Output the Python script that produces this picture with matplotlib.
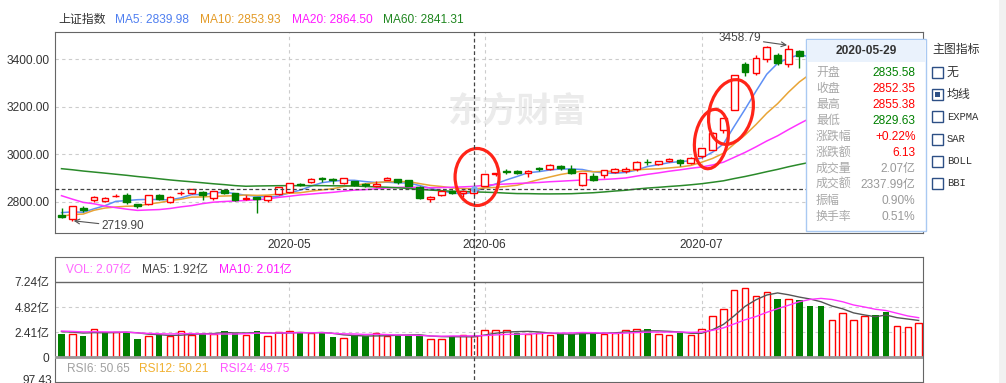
import numpy as np
import pandas as pd
import matplotlib
matplotlib.use('Agg')
import matplotlib.pyplot as plt
from matplotlib.patches import Rectangle, Ellipse
from matplotlib.lines import Line2D
from matplotlib.transforms import blended_transform_factory, IdentityTransform

plt.rcParams['font.family'] = ['Liberation Sans', 'Noto Sans CJK SC', 'DejaVu Sans']
plt.rcParams['font.size'] = 8.6

# trading days shown (2020-04-01 .. 2020-07-29)
apr = [1, 2, 3, 7, 8, 9, 10, 13, 14, 15, 16, 17, 20, 21, 22, 23, 24, 27, 28, 29, 30]
may = [6, 7, 8, 11, 12, 13, 14, 15, 18, 19, 20, 21, 22, 25, 26, 27, 28, 29]
jun = [1, 2, 3, 4, 5, 8, 9, 10, 11, 12, 15, 16, 17, 18, 19, 22, 23, 24, 29, 30]
jul = [1, 2, 3, 6, 7, 8, 9, 10, 13, 14, 15, 16, 17, 20, 21, 22, 23, 24, 27, 28, 29]
dates = ([f'2020-04-{d:02d}' for d in apr] + [f'2020-05-{d:02d}' for d in may] +
         [f'2020-06-{d:02d}' for d in jun] + [f'2020-07-{d:02d}' for d in jul])

# closes before April 1 (2019-12-31 .. 2020-03-31), only needed for the MA lines
prior_close = [3050.12,
               3085.20, 3083.79, 3083.41, 3104.80, 3066.89, 3094.88, 3092.29, 3115.57,
               3106.82, 3090.04, 3074.08, 3075.50, 3095.79, 3052.14, 3060.75, 2976.53,
               2746.61, 2783.29, 2818.09, 2866.51, 2875.96, 2890.49, 2901.67, 2926.90,
               2906.07, 2917.01, 2983.62, 2984.97, 2975.40, 3030.15, 3039.67, 3031.23,
               3013.05, 2987.93, 2991.33, 2880.30,
               2970.93, 2992.90, 3011.67, 3071.68, 3034.51, 2943.29, 2996.76, 2968.52,
               2923.49, 2887.43, 2789.25, 2779.64, 2728.76, 2702.13, 2745.62, 2660.17,
               2722.44, 2781.59, 2764.91, 2772.20, 2747.21, 2750.30]
prior_vol = [2.6, 2.5, 2.6, 2.5, 2.6, 2.5, 2.5, 2.5, 2.5]

open_ = [2743.5, 2727, 2773, 2805, 2804, 2822, 2830, 2790, 2790, 2828, 2800, 2836, 2838, 2841,
         2814, 2849, 2835, 2811, 2818, 2805, 2832,
         2840, 2876, 2881, 2900, 2896, 2880, 2886, 2875, 2868, 2892, 2895, 2890, 2863, 2813,
         2828, 2844, 2838, 2835.58,
         2867, 2915, 2928, 2931, 2920, 2941, 2937, 2952, 2936, 2871, 2908, 2912, 2927, 2928,
         2936, 2968, 2958, 2972, 2975, 2962,
         2992, 3017, 3100, 3185, 3380, 3342, 3400, 3417, 3380, 3434, 3410, 3355, 3200, 3230,
         3318, 3306, 3320, 3305, 3210, 3220, 3227]
high = [2773, 2781, 2780, 2823, 2818, 2833, 2835, 2792, 2828, 2832, 2822, 2843, 2854, 2845,
        2845, 2851, 2838, 2827, 2820, 2826, 2862,
        2880, 2880, 2898, 2906, 2898, 2900, 2888, 2880, 2886, 2903, 2897, 2890, 2866, 2822,
        2848, 2850, 2850, 2855.38,
        2917, 2922, 2936, 2932, 2933, 2948, 2960, 2955, 2956, 2922, 2919, 2933, 2942, 2945,
        2970, 2980, 2973, 2984, 2980, 2988,
        3028, 3093, 3154, 3333, 3390, 3416, 3456, 3428, 3458.79, 3440, 3410, 3360, 3235, 3316,
        3340, 3361, 3335, 3309, 3226, 3247, 3294]
low = [2730, 2719.90, 2755, 2800, 2800, 2818, 2790, 2775, 2788, 2805, 2796, 2828, 2831, 2808,
       2806, 2834, 2804, 2805, 2754, 2800, 2830,
       2838, 2866, 2879, 2882, 2876, 2874, 2865, 2860, 2860, 2890, 2875, 2864, 2810, 2800,
       2822, 2832, 2818, 2829.63,
       2867, 2908, 2916, 2916, 2905, 2930, 2935, 2935, 2915, 2868, 2887, 2900, 2922, 2922,
       2928, 2955, 2953, 2966, 2950, 2960,
       2985, 3016, 3090, 3185, 3330, 3333, 3390, 3377, 3366, 3365, 3350, 3200, 3178, 3230,
       3303, 3293, 3258, 3195, 3184, 3217, 3217]
close = [2734.52, 2780.64, 2763.99, 2820.76, 2815.37, 2825.90, 2796.63, 2783.05, 2827.28,
         2811.17, 2819.94, 2838.49, 2852.55, 2827.01, 2843.98, 2838.50, 2808.53, 2815.49,
         2810.02, 2822.44, 2860.08,
         2878.14, 2871.52, 2895.34, 2894.80, 2891.56, 2898.05, 2870.34, 2868.46, 2875.42,
         2898.58, 2883.74, 2867.92, 2813.77, 2817.97, 2846.55, 2836.80, 2846.22, 2852.35,
         2915.43, 2921.40, 2923.37, 2919.25, 2930.80, 2937.77, 2956.11, 2943.75, 2920.90,
         2919.74, 2890.03, 2931.75, 2935.87, 2939.32, 2967.63, 2965.27, 2970.62, 2979.55,
         2961.52, 2984.67,
         3025.98, 3090.57, 3152.81, 3332.88, 3345.34, 3403.44, 3450.59, 3383.32, 3443.29,
         3414.62, 3361.30, 3210.10, 3214.13, 3314.15, 3320.90, 3333.16, 3325.11, 3196.77,
         3205.23, 3227.96, 3294.55]
# volume, 亿
vol = [2.25, 2.25, 2.06, 2.70, 2.41, 2.41, 2.41, 1.77, 2.03, 2.16, 2.03, 2.54, 2.16, 2.35,
       2.22, 2.54, 2.35, 2.12, 2.54, 2.03, 2.41,
       2.54, 2.35, 2.28, 2.28, 1.96, 1.83, 2.03, 2.03, 2.32, 2.03, 2.12, 2.12, 2.12, 1.74,
       1.74, 2.06, 2.12, 2.07,
       2.61, 2.61, 2.61, 2.35, 2.19, 2.32, 2.12, 2.19, 2.19, 2.44, 2.44, 2.22, 2.35, 2.61,
       2.70, 2.73, 2.22, 2.12, 2.28, 2.12,
       2.70, 3.96, 4.63, 6.47, 6.66, 5.89, 6.27, 5.63, 5.60, 5.53, 4.95, 4.95, 3.57, 4.25,
       3.57, 3.96, 4.09, 4.38, 2.99, 2.90, 3.28]

ma_periods = [5, 10, 20, 60]
ma_colors = ['#5f8ff5', '#e8a435', '#ff33ff', '#2a8a2a']
header_colors = ['#4f7ff0', '#e39a26', '#ff1aff', '#1f861f']

# values printed in the panel headers that the data above can't reproduce
vol_header = [('VOL: 2.07亿', '#ff66ff'), ('MA5: 1.92亿', '#444444'), ('MA10: 2.01亿', '#ff1aff')]
rsi_header = [('RSI6: 50.65', '#a0a0a0'), ('RSI12: 50.21', '#f0b030'), ('RSI24: 49.75', '#ff55ff')]

sel_date = '2020-05-29'
# hand-drawn red rings: (x in candle index, price, width px, height px, tilt deg)
rings = [(38.3, 2904, 44, 57, 0), (59.9, 3064, 33, 60, -10), (61.7, 3178, 43, 66, -15)]

RED = '#ff0000'
GREEN = '#008000'

n = len(close)
x = np.arange(n)
o, h, l, c = map(np.array, (open_, high, low, close))
v = np.array(vol)
up = c >= o
prev_c = np.array(prior_close[-1:] + close[:-1])
vup = c >= prev_c

all_c = pd.Series(prior_close + close)
mas = [all_c.rolling(p).mean().values[len(prior_close):] for p in ma_periods]
all_v = pd.Series(prior_vol + vol)
vma5 = all_v.rolling(5).mean().values[len(prior_vol):]
vma10 = all_v.rolling(10).mean().values[len(prior_vol):]

W, H = 1006, 383
fig = plt.figure(figsize=(W / 100, H / 100), dpi=100)


def px_box(left, top, right, bottom):
    return [left / W, 1 - bottom / H, (right - left) / W, (bottom - top) / H]


ax = fig.add_axes(px_box(55, 32, 923, 233))
axv = fig.add_axes(px_box(55, 257, 923, 382))

month_idx = [i for i in range(1, n) if dates[i][:7] != dates[i - 1][:7]]
ci = dates.index(sel_date)

# ---- main price panel
ax.set_xlim(-0.6, n - 0.6)
ax.set_ylim(2668, 3515)
yt = [2800, 3000, 3200, 3400]
ax.set_yticks(yt)
ax.set_yticklabels([f'{t:.2f}' for t in yt], color='#333')
ax.set_xticks(month_idx)
ax.set_xticklabels([dates[i][:7] for i in month_idx], color='#333')
ax.tick_params(length=0, pad=4)
for s in ax.spines.values():
    s.set_color('#666')

ax.text(0.533, 0.607, '东方财富', transform=ax.transAxes, fontsize=25, color='#ebebeb',
        fontweight='bold', ha='center', va='center', zorder=0,
        family=['Noto Sans CJK SC'])

for t in yt:
    ax.axhline(t, color='#cccccc', lw=0.8, ls=(0, (3, 3)), zorder=1)
for i in month_idx:
    ax.axvline(i, color='#cccccc', lw=0.8, ls=(0, (3, 3)), zorder=1)

for ma, col in zip(mas, ma_colors):
    ax.plot(x, ma, color=col, lw=1.1, zorder=2)

# wicks
ax.vlines(x[up], l[up], o[up], color=RED, lw=1, zorder=3)
ax.vlines(x[up], c[up], h[up], color=RED, lw=1, zorder=3)
ax.vlines(x[~up], l[~up], h[~up], color=GREEN, lw=1, zorder=3)
# bodies
ax.bar(x[up], (c - o)[up], bottom=o[up], width=0.62, facecolor='white', edgecolor=RED,
       lw=1, zorder=4)
ax.bar(x[~up], (o - c)[~up], bottom=c[~up], width=0.62, facecolor=GREEN, edgecolor=GREEN,
       lw=1, zorder=4)

# crosshair at the selected day
ax.axhline(c[ci], color='#444', lw=0.9, ls=(0, (3, 2)), zorder=5)
ax.plot(ci, c[ci], 'o', color='#7fb2f0', ms=4, zorder=6)
trans = blended_transform_factory(ax.transData, fig.transFigure)
fig.add_artist(Line2D([ci, ci], [1 - 32 / H, 1 - 382 / H], transform=trans,
                      color='#444', lw=0.9, ls=(0, (3, 2)), zorder=5))

# high / low labels
hi = int(np.argmax(h))
lo = int(np.argmin(l))
arrow = dict(arrowstyle='->', color='#555', lw=0.8, shrinkA=0, shrinkB=1)
ax.annotate(f'{h[hi]:.2f}', xy=(hi, h[hi]), xytext=(-20, 5), textcoords='offset points',
            ha='right', va='center', color='#444', fontsize=8.5, arrowprops=arrow, zorder=6)
ax.annotate(f'{l[lo]:.2f}', xy=(lo, l[lo]), xytext=(21, -4), textcoords='offset points',
            ha='left', va='center', color='#444', fontsize=8.5, arrowprops=arrow, zorder=6)

# ---- volume panel
axv.set_xlim(-0.6, n - 0.6)
axv.set_ylim(-2.413, 9.653)
vt = [0, 2.41, 4.82, 7.24]
axv.set_yticks(vt)
axv.set_yticklabels(['0'] + [f'{t:.2f}亿' for t in vt[1:]], color='#333')
axv.set_xticks([])
axv.tick_params(length=0, pad=4)
for s in axv.spines.values():
    s.set_color('#666')
for t in vt[1:3]:
    axv.axhline(t, color='#cccccc', lw=0.8, ls=(0, (3, 3)), zorder=0)
axv.vlines(month_idx, 0, vt[-1], color='#cccccc', lw=0.8, ls=(0, (3, 3)), zorder=0)
axv.axhline(vt[-1], color='#666', lw=1)
axv.bar(x[vup], v[vup], width=0.6, facecolor='white', edgecolor=RED, lw=1, zorder=3)
axv.bar(x[~vup], v[~vup], width=0.6, color=GREEN, zorder=3)
axv.plot(x, vma5, color='#555', lw=1, zorder=4)
axv.plot(x, vma10, color='#ff33ff', lw=1, zorder=4)
axv.axhline(0, color='#999', lw=2, zorder=5)

# ---- overlay in pixel coordinates: headers, tooltip, side panel
ov = fig.add_axes([0, 0, 1, 1], zorder=10)
ov.set_xlim(0, W)
ov.set_ylim(H, 0)
ov.axis('off')
ov.patch.set_alpha(0)

ov.text(58, 20, '上证指数', color='#333', va='center')
hx = [115, 200, 292, 383]
for px_, p, ma, col in zip(hx, ma_periods, mas, header_colors):
    ov.text(px_, 20, f'MA{p}: {ma[ci]:.2f}', color=col, va='center')

for px_, (txt, col) in zip([66, 142, 219], vol_header):
    ov.text(px_, 270, txt, color=col, va='center')
for px_, (txt, col) in zip([67, 139, 220], rsi_header):
    ov.text(px_, 369, txt, color=col, va='center')
# first RSI tick label, cut by the bottom edge as in the screenshot
ov.text(52, 381, '97.43', color='#333', ha='right', va='center')

# tooltip
ov.add_patch(Rectangle((806, 39), 120, 192, facecolor='white', edgecolor='#a9c9f2', lw=1))
ov.add_patch(Rectangle((806.6, 39.6), 118.8, 22, facecolor='#eaf2fc', edgecolor='none'))
ov.text(866, 50.7, sel_date, ha='center', va='center', fontweight='bold', color='#333')
pc = prev_c[ci]
tip_rows = [('开盘', f'{o[ci]:.2f}', GREEN if o[ci] < pc else RED),
            ('收盘', f'{c[ci]:.2f}', RED if c[ci] >= pc else GREEN),
            ('最高', f'{h[ci]:.2f}', RED if h[ci] >= pc else GREEN),
            ('最低', f'{l[ci]:.2f}', GREEN if l[ci] < pc else RED),
            ('涨跌幅', f'{(c[ci] - pc) / pc * 100:+.2f}%', RED),
            ('涨跌额', f'{c[ci] - pc:.2f}', RED),
            ('成交量', f'{v[ci]:.2f}亿', '#999'),
            ('成交额', '2337.99亿', '#999'),
            ('振幅', f'{(h[ci] - l[ci]) / pc * 100:.2f}%', '#999'),
            ('换手率', '0.51%', '#999')]
for k, (lab, val, col) in enumerate(tip_rows):
    yy = 72.7 + 16.0 * k
    ov.text(816, yy, lab, color='#a8a8a8', va='center')
    ov.text(915.5, yy, val, color=col, va='center', ha='right')

# side panel
ov.add_patch(Rectangle((999, 0), 7, H, facecolor='#f1f1f1', edgecolor='none'))
ov.text(932, 50, '主图指标', color='#333', va='center')
side_items = ['无', '均线', 'EXPMA', 'SAR', 'BOLL', 'BBI']
checked = '均线'
for k, name in enumerate(side_items):
    yy = 72.7 + 22.1 * k
    ov.add_patch(Rectangle((932.5, yy - 5.5), 11, 11, facecolor='white',
                           edgecolor='#2d4f85', lw=1))
    if name == checked:
        ov.add_patch(Rectangle((935.5, yy - 2.5), 5, 5, facecolor='#2d4f85',
                               edgecolor='none'))
    fam = ['Noto Sans CJK SC'] if not name.isascii() else ['Liberation Mono']
    ov.text(947, yy, name, color='#333', va='center', family=fam,
            fontsize=8.6 if not name.isascii() else 7.6)

# red rings, anchored to the price panel
fig.canvas.draw()
for rx, ry, rw, rh, ang in rings:
    cx, cy = ax.transData.transform((rx, ry))
    ax.add_patch(Ellipse((cx, cy), rw, rh, angle=ang, transform=IdentityTransform(),
                         fill=False, edgecolor='#ff2418', lw=2.3, zorder=7))

fig.savefig('out.png', dpi=100)
